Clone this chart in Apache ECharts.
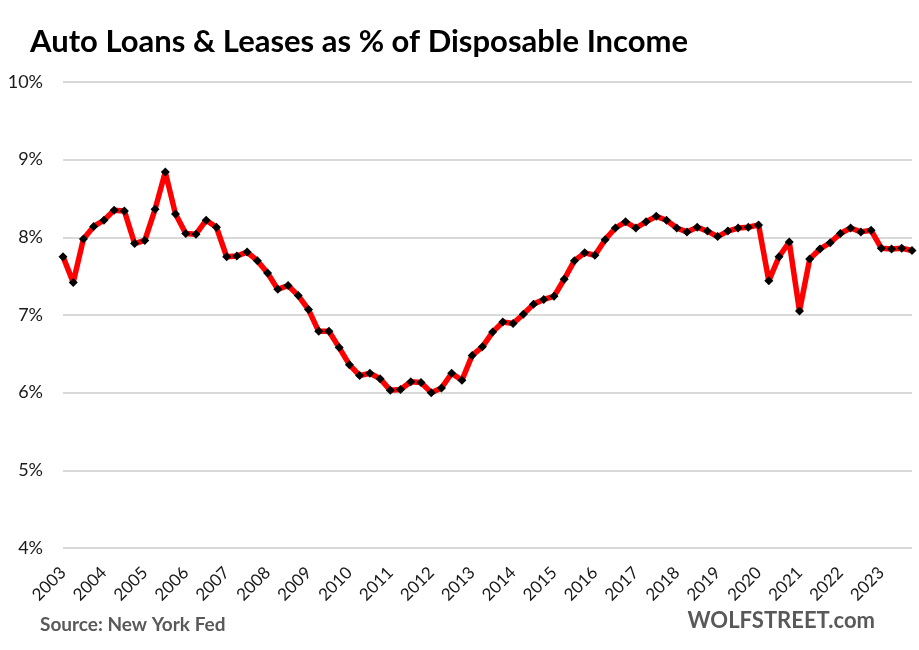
<!DOCTYPE html>
<html>
<head>
<meta charset="utf-8">
<script src="https://cdn.jsdelivr.net/npm/echarts@6/dist/echarts.min.js"></script>
<style>
html,body{margin:0;padding:0;background:#fff;}
#chart{width:919px;height:650px;}
</style>
</head>
<body>
<div id="chart"></div>
<script>
// Quarterly, 2003 Q1 .. 2023 Q4
const years = [];
for (let y = 2003; y <= 2023; y++) years.push(String(y));
const quarters = ['Q1','Q2','Q3','Q4'];
const categories = [];
years.forEach(y => quarters.forEach(q => categories.push(y + ' ' + q)));

// Auto loans & leases as % of disposable income
const values = [
  7.75, 7.42, 7.98, 8.14, 8.22, 8.35, 8.34, 7.92, 7.96, 8.36, 8.84, 8.30,
  8.05, 8.04, 8.22, 8.13, 7.75, 7.76, 7.81, 7.70, 7.54, 7.33, 7.38, 7.25,
  7.07, 6.79, 6.79, 6.58, 6.36, 6.22, 6.25, 6.18, 6.03, 6.04, 6.14, 6.13,
  6.00, 6.06, 6.25, 6.16, 6.48, 6.59, 6.78, 6.91, 6.89, 7.01, 7.14, 7.20,
  7.24, 7.46, 7.70, 7.80, 7.77, 7.97, 8.12, 8.20, 8.12, 8.20, 8.27, 8.22,
  8.12, 8.07, 8.13, 8.08, 8.01, 8.08, 8.12, 8.13, 8.16, 7.44, 7.75, 7.94,
  7.05, 7.72, 7.85, 7.93, 8.05, 8.12, 8.07, 8.09, 7.86, 7.85, 7.86, 7.83
];

const titleText = 'Auto Loans & Leases as % of Disposable Income';
const sourceText = 'Source: New York Fed';
const brandText = 'WOLFSTREET.com';
const yTicks = [4, 5, 6, 7, 8, 9, 10];

const FONT = 'Lato, "Open Sans", sans-serif';

const chart = echarts.init(document.getElementById('chart'), null, {renderer: 'canvas'});
chart.setOption({
  backgroundColor: '#ffffff',
  animation: false,
  grid: {left: 63, right: 7, top: 82, bottom: 102, containLabel: false},
  xAxis: {
    type: 'category',
    data: categories,
    boundaryGap: false,
    axisLine: {show: false},
    axisTick: {show: false},
    splitLine: {show: false},
    axisLabel: {
      interval: 3,
      rotate: 45,
      margin: 22,
      color: '#1a1a1a',
      fontSize: 17,
      fontFamily: FONT,
      formatter: v => v.slice(0, 4)
    }
  },
  yAxis: {
    type: 'value',
    min: yTicks[0],
    max: yTicks[yTicks.length - 1],
    interval: 1,
    axisLine: {show: false},
    axisTick: {show: false},
    splitLine: {lineStyle: {color: '#d9d9d9', width: 2}},
    axisLabel: {
      margin: 20,
      color: '#1a1a1a',
      fontSize: 18,
      fontFamily: FONT,
      formatter: '{value}%'
    }
  },
  series: [{
    type: 'line',
    data: values,
    lineStyle: {color: '#ff0000', width: 5.5},
    itemStyle: {color: '#000000'},
    symbol: 'diamond',
    symbolSize: 9,
    showSymbol: true,
    showAllSymbol: true,
    z: 3
  }],
  graphic: [
    {type: 'text', left: 30, top: 26, style: {text: titleText, font: 'bold 31px ' + FONT, fill: '#000000'}},
    {type: 'text', left: 40, top: 615, style: {text: sourceText, font: 'bold 19px ' + FONT, fill: '#595959'}},
    {type: 'text', right: 44, top: 610, style: {text: brandText, font: 'bold 22px ' + FONT, fill: '#595959'}}
  ]
});
</script>
</body>
</html>
